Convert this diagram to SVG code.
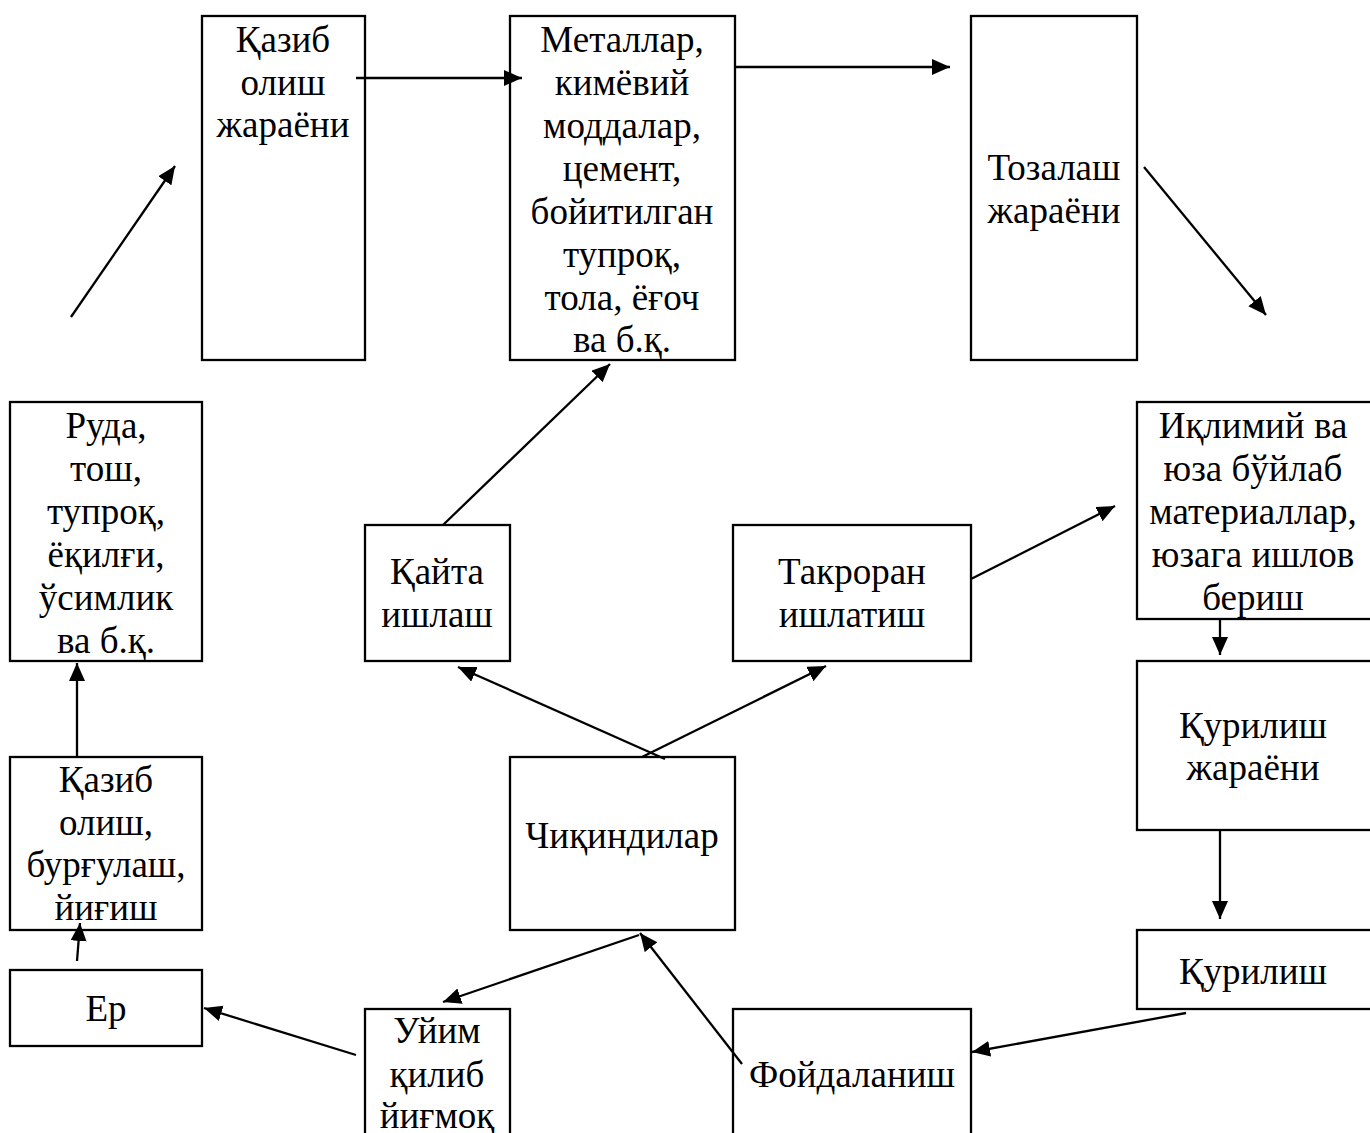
<svg xmlns="http://www.w3.org/2000/svg" width="1370" height="1133" viewBox="0 0 1370 1133">
<defs>
<style>
rect.box{fill:#fff;stroke:#000;stroke-width:2.3}
text{font-family:"Liberation Serif","Times New Roman",serif;font-size:37px;fill:#000;text-anchor:middle}
.c line{stroke:#000;stroke-width:2.3;marker-end:url(#ah)}
</style>
<marker id="ah" markerUnits="userSpaceOnUse" markerWidth="19" markerHeight="17" refX="18" refY="8" orient="auto" viewBox="0 0 19 17">
<path d="M0,0 L18,8 L0,16 z" fill="#000"/>
</marker>
</defs>
<rect width="1370" height="1133" fill="#fff"/>
<g id="n-kazib-jarayon"><rect class="box" x="202" y="16" width="163" height="344"/>
<text x="283" y="52">Қазиб</text><text x="283" y="95">олиш</text><text x="283" y="137">жараёни</text></g>
<g id="n-metallar"><rect class="box" x="510" y="16" width="225" height="344"/>
<text x="622" y="52">Металлар,</text><text x="622" y="95">кимёвий</text><text x="622" y="138">моддалар,</text><text x="622" y="181">цемент,</text><text x="622" y="224">бойитилган</text><text x="622" y="267">тупроқ,</text><text x="622" y="310">тола, ёғоч</text><text x="622" y="352">ва б.қ.</text></g>
<g id="n-tozalash"><rect class="box" x="971" y="16" width="166" height="344"/>
<text x="1054" y="180">Тозалаш</text><text x="1054" y="223">жараёни</text></g>
<g id="n-ruda"><rect class="box" x="10" y="402" width="192" height="259"/>
<text x="106" y="438">Руда,</text><text x="106" y="481">тош,</text><text x="106" y="524">тупроқ,</text><text x="106" y="567">ёқилғи,</text><text x="106" y="610">ўсимлик</text><text x="106" y="653">ва б.қ.</text></g>
<g id="n-kayta"><rect class="box" x="365" y="525" width="145" height="136"/>
<text x="437" y="584">Қайта</text><text x="437" y="627">ишлаш</text></g>
<g id="n-takroran"><rect class="box" x="733" y="525" width="238" height="136"/>
<text x="852" y="584">Такроран</text><text x="852" y="627">ишлатиш</text></g>
<g id="n-iklimiy"><rect class="box" x="1137" y="402" width="245" height="217"/>
<text x="1253" y="438">Иқлимий ва</text><text x="1253" y="481">юза бўйлаб</text><text x="1253" y="524">материаллар,</text><text x="1253" y="567">юзага ишлов</text><text x="1253" y="610">бериш</text></g>
<g id="n-kurilish-jarayon"><rect class="box" x="1137" y="661" width="245" height="169"/>
<text x="1253" y="738">Қурилиш</text><text x="1253" y="780">жараёни</text></g>
<g id="n-kazib-burgulash"><rect class="box" x="10" y="757" width="192" height="173"/>
<text x="106" y="792">Қазиб</text><text x="106" y="835">олиш,</text><text x="106" y="877">бурғулаш,</text><text x="106" y="920">йиғиш</text></g>
<g id="n-chikindilar"><rect class="box" x="510" y="757" width="225" height="173"/>
<text x="622" y="848">Чиқиндилар</text></g>
<g id="n-kurilish"><rect class="box" x="1137" y="930" width="245" height="79"/>
<text x="1253" y="984">Қурилиш</text></g>
<g id="n-er"><rect class="box" x="10" y="970" width="192" height="76"/>
<text x="106" y="1021">Ер</text></g>
<g id="n-uyim"><rect class="box" x="365" y="1009" width="145" height="140"/>
<text x="437" y="1043">Уйим</text><text x="437" y="1087">қилиб</text><text x="437" y="1128">йиғмоқ</text></g>
<g id="n-foydalanish"><rect class="box" x="733" y="1009" width="238" height="140"/>
<text x="852" y="1087">Фойдаланиш</text></g>
<g id="connectors" class="c">
<line x1="71" y1="317" x2="175" y2="166"/>
<line x1="356" y1="78" x2="522" y2="78"/>
<line x1="734" y1="67" x2="950" y2="67"/>
<line x1="1144" y1="167" x2="1266" y2="315"/>
<line x1="443" y1="525" x2="610" y2="364"/>
<line x1="665" y1="759" x2="458" y2="667"/>
<line x1="642" y1="757" x2="826" y2="666"/>
<line x1="971" y1="579" x2="1115" y2="506"/>
<line x1="1220" y1="619" x2="1220" y2="655"/>
<line x1="1220" y1="830" x2="1220" y2="919"/>
<line x1="1186" y1="1013" x2="972" y2="1052"/>
<line x1="742" y1="1064" x2="640" y2="933"/>
<line x1="639" y1="935" x2="443" y2="1002"/>
<line x1="356" y1="1055" x2="204" y2="1008"/>
<line x1="77" y1="961" x2="80" y2="923"/>
<line x1="77" y1="757" x2="77" y2="663"/>
</g>
</svg>
